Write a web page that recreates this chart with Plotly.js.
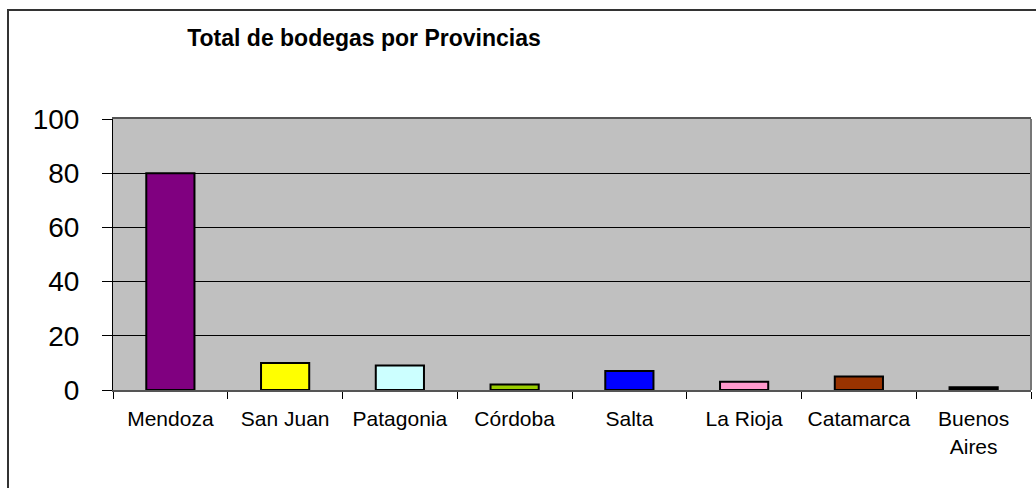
<!DOCTYPE html>
<html>
<head>
<meta charset="utf-8">
<script src="https://cdn.plot.ly/plotly-3.0.1.min.js"></script>
<style>
  html, body { margin: 0; padding: 0; background: #fff; overflow: hidden; }
  #wrap { position: relative; width: 1036px; height: 488px; }
  #chart { width: 1036px; height: 488px; }
  #frame { position: absolute; left: 7px; top: 9px; width: 1100px; height: 600px;
           border-left: 2px solid #333; border-top: 2px solid #333; pointer-events: none; }
</style>
</head>
<body>
<div id="wrap">
  <div id="chart"></div>
  <div id="frame"></div>
</div>
<script>
const provincias = ["Mendoza", "San Juan", "Patagonia", "Córdoba", "Salta", "La Rioja", "Catamarca", "Buenos<br>Aires"];
const bodegas = [80, 10, 9, 2, 7, 3, 5, 1];
const colores = ["#800080", "#FFFF00", "#CCFFFF", "#99CC00", "#0000FF", "#FF99CC", "#993300", "#000000"];
const yTicks = [0, 20, 40, 60, 80, 100];

const trace = {
  type: "bar",
  x: provincias,
  y: bodegas,
  marker: { color: colores, line: { color: "#000", width: 2 } },
  hoverinfo: "x+y"
};

const layout = {
  width: 1036, height: 488,
  margin: { l: 113, r: 5, t: 119, b: 98, pad: 0 },
  paper_bgcolor: "#ffffff",
  plot_bgcolor: "#C0C0C0",
  showlegend: false,
  bargap: 0.58,
  font: { family: "Liberation Sans, Arial, sans-serif", color: "#000" },
  title: {
    text: "<b>Total de bodegas por Provincias</b>",
    font: { size: 23, family: "Liberation Sans, Arial, sans-serif", color: "#000" },
    xref: "container", yref: "container",
    x: 364 / 1036, xanchor: "center",
    y: 1 - 38 / 488, yanchor: "middle"
  },
  xaxis: {
    type: "category",
    tickson: "boundaries",
    ticks: "outside", ticklen: 7, tickcolor: "#000", tickwidth: 1,
    showgrid: false,
    showline: true, linecolor: "#555", linewidth: 2, mirror: true,
    tickfont: { size: 21 },
    ticklabelstandoff: 9,
    fixedrange: true
  },
  yaxis: {
    range: [0, 100],
    tickvals: yTicks,
    ticktext: yTicks.map(String),
    ticks: "outside", ticklen: 10, tickcolor: "#000", tickwidth: 1,
    showgrid: true, gridcolor: "#000", gridwidth: 1,
    zeroline: false,
    showline: true, linecolor: "#000", linewidth: 1,
    tickfont: { size: 28 },
    ticklabelstandoff: 17,
    fixedrange: true
  },
  shapes: [
    { type: "line", xref: "paper", yref: "paper", x0: 1, x1: 1, y0: 0, y1: 1,
      line: { color: "#777", width: 2 } }
  ]
};

Plotly.newPlot("chart", [trace], layout, { displayModeBar: false, staticPlot: true });
</script>
</body>
</html>
